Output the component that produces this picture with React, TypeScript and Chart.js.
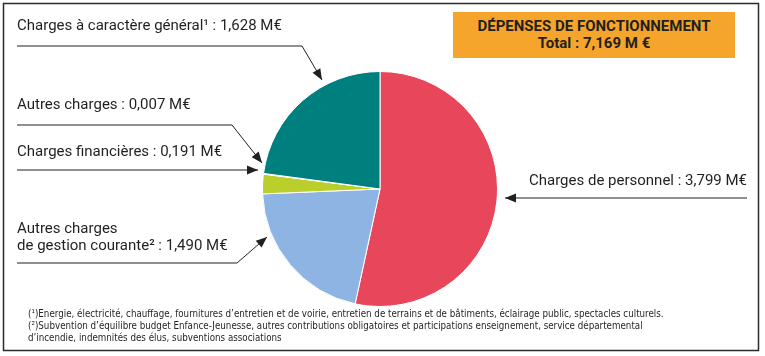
import React, { useEffect, useRef } from "react";
import Chart from "chart.js/auto";

// ---- Data ----
const categories = [
  "Charges de personnel",
  "Autres charges de gestion courante",
  "Charges financières",
  "Autres charges",
  "Charges à caractère général",
];
const values = [3.799, 1.49, 0.191, 0.007, 1.628];
const sliceColors = ["#E8465A", "#8DB4E2", "#BACF2B", "#FFFFFF", "#007F7F"];
const titleLines = ["DÉPENSES DE FONCTIONNEMENT", "Total : 7,169 M €"];
const footnotes = [
  "(¹)Energie, électricité, chauffage, fournitures d’entretien et de voirie, entretien de terrains et de bâtiments, éclairage public, spectacles culturels.",
  "(²)Subvention d’équilibre budget Enfance-Jeunesse, autres contributions obligatoires et participations enseignement, service départemental",
  "d’incendie, indemnités des élus, subventions associations",
];

const fmt = (v: number) => v.toFixed(3).replace(".", ",");

// label layout (annotation positions, not data)
const labelLayout = [
  { idx: 0, left: 528, top: 172, width: 219, align: "right", lines: [`${categories[0]} : ${fmt(values[0])} M€`], arrow: [[747, 198], [505, 198]] },
  { idx: 1, left: 17, top: 220, width: 300, align: "left", lines: ["Autres charges", `de gestion courante² : ${fmt(values[1])} M€`], arrow: [[17, 263], [237, 263], [267, 237]] },
  { idx: 2, left: 17, top: 143, width: 300, align: "left", lines: [`${categories[2]} : ${fmt(values[2])} M€`], arrow: [[17, 170], [258, 170]] },
  { idx: 3, left: 17, top: 96, width: 300, align: "left", lines: [`${categories[3]} : ${fmt(values[3])} M€`], arrow: [[17, 125], [232, 125], [262, 163]] },
  { idx: 4, left: 17, top: 17, width: 320, align: "left", lines: [`${categories[4]}¹ : ${fmt(values[4])} M€`], arrow: [[17, 46], [302, 46], [322, 80]] },
];

function arrowHead(pts: number[][]) {
  const [x2, y2] = pts[pts.length - 1];
  const [x1, y1] = pts[pts.length - 2];
  const a = Math.atan2(y2 - y1, x2 - x1);
  const L = 11, W = 4.5;
  const bx = x2 - L * Math.cos(a), by = y2 - L * Math.sin(a);
  const px = -Math.sin(a) * W, py = Math.cos(a) * W;
  return `${x2},${y2} ${bx + px},${by + py} ${bx - px},${by - py}`;
}

export default function App() {
  const ref = useRef<HTMLCanvasElement>(null);
  useEffect(() => {
    if (!ref.current) return;
    const chart = new Chart(ref.current, {
      type: "pie",
      data: {
        labels: categories,
        datasets: [
          {
            data: values,
            backgroundColor: sliceColors,
            borderColor: "#FFFFFF",
            borderWidth: 1,
          },
        ],
      },
      options: {
        responsive: false,
        animation: false,
        events: [],
        layout: { padding: { left: 262, right: 267, top: 71, bottom: 49 } },
        plugins: { legend: { display: false }, tooltip: { enabled: false } },
      },
    });
    return () => chart.destroy();
  }, []);

  const txt = "#231F20";
  return (
    <div style={{ position: "absolute", left: 0, top: 0, width: 765, height: 356, background: "#fff", fontFamily: "Roboto, sans-serif", color: txt }}>
      <canvas ref={ref} width={765} height={356} style={{ position: "absolute", left: 0, top: 0 }} />
      <svg width={765} height={356} style={{ position: "absolute", left: 0, top: 0 }}>
        <rect x={3.5} y={3.5} width={755} height={347} fill="none" stroke="#2b2b2b" strokeWidth={1.5} />
        {labelLayout.map((l, i) => (
          <g key={i}>
            <polyline points={l.arrow.map((p) => p.join(",")).join(" ")} fill="none" stroke={txt} strokeWidth={1} />
            <polygon points={arrowHead(l.arrow)} fill={txt} />
          </g>
        ))}
      </svg>
      {labelLayout.map((l, i) => (
        <div key={i} style={{ position: "absolute", left: l.left, top: l.top, width: l.width, textAlign: l.align as any, fontSize: 15, lineHeight: "17px", whiteSpace: "nowrap" }}>
          {l.lines.map((s, j) => (
            <div key={j}>{s}</div>
          ))}
        </div>
      ))}
      <div style={{ position: "absolute", left: 453, top: 12, width: 282, height: 46, background: "#F5A52B", display: "flex", flexDirection: "column", justifyContent: "center", alignItems: "center", fontWeight: 700, fontSize: 15, lineHeight: "17px" }}>
        {titleLines.map((s, j) => (
          <div key={j}>{s}</div>
        ))}
      </div>
      <div style={{ position: "absolute", left: 28, top: 307, fontFamily: "'Liberation Sans Narrow', 'DejaVu Sans Condensed', sans-serif", fontSize: 10.5, lineHeight: "12px", whiteSpace: "nowrap", transform: "scaleX(0.925)", transformOrigin: "0 0" }}>
        {footnotes.map((s, j) => (
          <div key={j}>{s}</div>
        ))}
      </div>
    </div>
  );
}
